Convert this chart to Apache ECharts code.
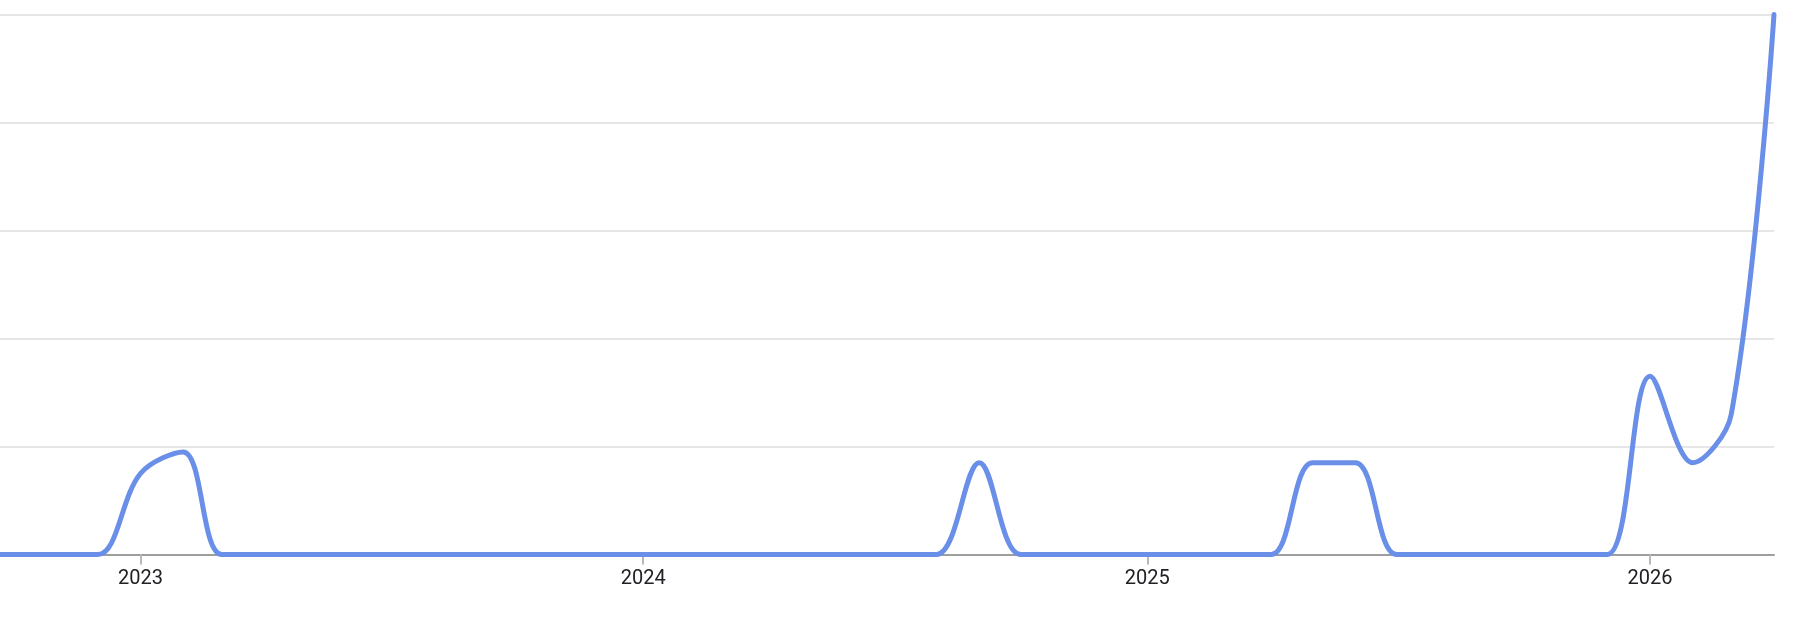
<!DOCTYPE html>
<html>
<head>
<meta charset="utf-8">
<script src="https://cdn.jsdelivr.net/npm/echarts@6/dist/echarts.min.js"></script>
<style>
  html, body { margin: 0; padding: 0; background: #ffffff; }
  #chart { width: 1812px; height: 618px; }
</style>
</head>
<body>
<div id="chart"></div>
<script>
// Monthly points (first day of each month)
const months = [
  '2022-09-01','2022-10-01','2022-11-01','2022-12-01',
  '2023-01-01','2023-02-01','2023-03-01','2023-04-01','2023-05-01','2023-06-01',
  '2023-07-01','2023-08-01','2023-09-01','2023-10-01','2023-11-01','2023-12-01',
  '2024-01-01','2024-02-01','2024-03-01','2024-04-01','2024-05-01','2024-06-01',
  '2024-07-01','2024-08-01','2024-09-01','2024-10-01','2024-11-01','2024-12-01',
  '2025-01-01','2025-02-01','2025-03-01','2025-04-01','2025-05-01','2025-06-01',
  '2025-07-01','2025-08-01','2025-09-01','2025-10-01','2025-11-01','2025-12-01',
  '2026-01-01','2026-02-01','2026-03-01','2026-04-01'
];
const interest = [
  0, 0, 0, 0,
  15, 19, 0, 0, 0, 0,
  0, 0, 0, 0, 0, 0,
  0, 0, 0, 0, 0, 0,
  0, 0, 17, 0, 0, 0,
  0, 0, 0, 0, 17, 17,
  0, 0, 0, 0, 0, 0,
  33, 17, 26, 100
];
const yearTicks = ['2023-01-01', '2024-01-01', '2025-01-01', '2026-01-01'];
const axisStart = '2022-09-21';
const axisEnd = '2026-04-01';

const ts = d => Date.parse(d + 'T00:00:00Z');
const tickValues = yearTicks.map(ts);

const chart = echarts.init(document.getElementById('chart'));
chart.setOption({
  animation: false,
  grid: { left: 0, right: 38, top: 14.5, bottom: 63.5 },
  xAxis: {
    type: 'value',
    min: ts(axisStart),
    max: ts(axisEnd),
    axisLine: { show: true, lineStyle: { color: '#9e9e9e', width: 2 } },
    axisTick: {
      show: true, length: 10, customValues: tickValues,
      lineStyle: { color: '#b8b8b8', width: 2 }
    },
    axisLabel: {
      customValues: tickValues,
      formatter: v => String(new Date(v).getUTCFullYear()),
      color: '#202124',
      fontFamily: 'Roboto',
      fontSize: 20,
      margin: 14
    },
    splitLine: { show: false }
  },
  yAxis: {
    type: 'value',
    min: 0, max: 100, interval: 20,
    axisLine: { show: false },
    axisTick: { show: false },
    axisLabel: { show: false },
    splitLine: { lineStyle: { color: '#e6e6e6', width: 2 } }
  },
  series: [{
    type: 'line',
    data: months.map((m, i) => [ts(m), interest[i]]),
    smooth: 0.35,
    showSymbol: false,
    lineStyle: { color: '#6a8fe8', width: 5, cap: 'round', join: 'round' },
    z: 3
  }]
});
</script>
</body>
</html>
